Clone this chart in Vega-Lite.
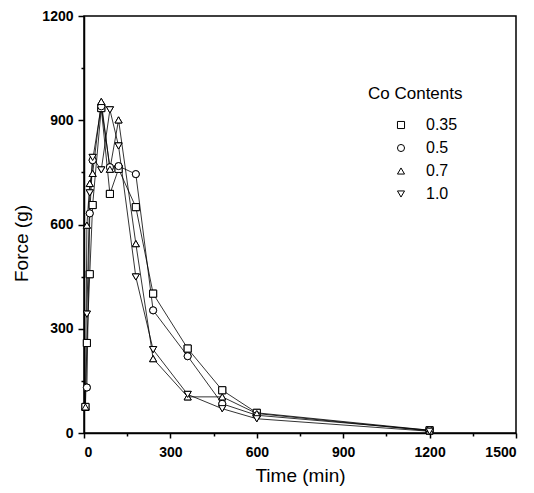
{
  "$schema": "https://vega.github.io/schema/vega-lite/v6.json",
  "width": 432,
  "height": 417,
  "autosize": "none",
  "padding": {"left": 84, "top": 16, "right": 18, "bottom": 60},
  "background": "white",
  "config": {
    "font": "Liberation Sans",
    "view": {"stroke": "black", "strokeWidth": 1.5},
    "axis": {
      "grid": false,
      "domainColor": "black",
      "domainWidth": 1.5,
      "tickColor": "black",
      "tickWidth": 1.5,
      "labelColor": "black",
      "labelFont": "Liberation Sans",
      "labelFontSize": 14,
      "labelFontWeight": "bold",
      "titleColor": "black",
      "titleFont": "Liberation Sans",
      "titleFontSize": 19,
      "titleFontWeight": "normal"
    }
  },
  "data": {
    "values": [
      {"content": "0.35", "time": 5, "force": 75},
      {"content": "0.35", "time": 10, "force": 259},
      {"content": "0.35", "time": 20, "force": 457},
      {"content": "0.35", "time": 30, "force": 656},
      {"content": "0.35", "time": 60, "force": 935},
      {"content": "0.35", "time": 90, "force": 688},
      {"content": "0.35", "time": 120, "force": 760},
      {"content": "0.35", "time": 180, "force": 650},
      {"content": "0.35", "time": 240, "force": 401},
      {"content": "0.35", "time": 360, "force": 243},
      {"content": "0.35", "time": 480, "force": 123},
      {"content": "0.35", "time": 600, "force": 58},
      {"content": "0.35", "time": 1200, "force": 8},
      {"content": "0.5", "time": 10, "force": 131},
      {"content": "0.5", "time": 20, "force": 632},
      {"content": "0.5", "time": 30, "force": 785},
      {"content": "0.5", "time": 60, "force": 940},
      {"content": "0.5", "time": 90, "force": 765},
      {"content": "0.5", "time": 120, "force": 768},
      {"content": "0.5", "time": 180, "force": 745},
      {"content": "0.5", "time": 240, "force": 353},
      {"content": "0.5", "time": 360, "force": 221},
      {"content": "0.5", "time": 480, "force": 84},
      {"content": "0.5", "time": 600, "force": 51},
      {"content": "0.5", "time": 1200, "force": 8},
      {"content": "0.7", "time": 5, "force": 75},
      {"content": "0.7", "time": 10, "force": 598},
      {"content": "0.7", "time": 20, "force": 718},
      {"content": "0.7", "time": 30, "force": 747},
      {"content": "0.7", "time": 60, "force": 954},
      {"content": "0.7", "time": 90, "force": 759},
      {"content": "0.7", "time": 120, "force": 901},
      {"content": "0.7", "time": 180, "force": 545},
      {"content": "0.7", "time": 240, "force": 214},
      {"content": "0.7", "time": 360, "force": 104},
      {"content": "0.7", "time": 480, "force": 104},
      {"content": "0.7", "time": 600, "force": 56},
      {"content": "0.7", "time": 1200, "force": 6},
      {"content": "1.0", "time": 10, "force": 342},
      {"content": "1.0", "time": 20, "force": 691},
      {"content": "1.0", "time": 30, "force": 793},
      {"content": "1.0", "time": 60, "force": 757},
      {"content": "1.0", "time": 90, "force": 930},
      {"content": "1.0", "time": 120, "force": 826},
      {"content": "1.0", "time": 180, "force": 449},
      {"content": "1.0", "time": 240, "force": 240},
      {"content": "1.0", "time": 360, "force": 111},
      {"content": "1.0", "time": 480, "force": 70},
      {"content": "1.0", "time": 600, "force": 41},
      {"content": "1.0", "time": 1200, "force": 5}
    ]
  },
  "layer": [
    {
      "mark": {"type": "line", "color": "black", "strokeWidth": 0.8},
      "encoding": {
        "x": {
          "field": "time", "type": "quantitative",
          "scale": {"domain": [0, 1500], "nice": false},
          "axis": {"orient": "bottom", "values": [0, 300, 600, 900, 1200, 1500], "format": "d", "tickSize": 5, "labelPadding": 7, "title": "Time (min)", "titlePadding": 7}
        },
        "y": {
          "field": "force", "type": "quantitative",
          "scale": {"domain": [0, 1200], "nice": false},
          "axis": {"orient": "left", "values": [0, 300, 600, 900, 1200], "format": "d", "tickSize": 6, "labelPadding": 5, "title": "Force (g)", "titlePadding": 10, "titleY": 227}
        },
        "detail": {"field": "content", "type": "nominal"}
      }
    },
    {
      "mark": {"type": "point", "filled": false, "color": "black", "strokeWidth": 1, "size": 50, "opacity": 1},
      "encoding": {
        "x": {
          "field": "time", "type": "quantitative",
          "scale": {"domain": [0, 1500], "nice": false},
          "axis": {"orient": "bottom", "values": [150, 450, 750, 1050, 1350], "labels": false, "domain": false, "tickSize": 3, "title": null}
        },
        "y": {
          "field": "force", "type": "quantitative",
          "scale": {"domain": [0, 1200], "nice": false},
          "axis": {"orient": "left", "values": [150, 450, 750, 1050], "labels": false, "domain": false, "tickSize": 3, "title": null}
        },
        "shape": {
          "field": "content", "type": "nominal",
          "scale": {"domain": ["0.35", "0.5", "0.7", "1.0"], "range": ["square", "circle", "triangle-up", "triangle-down"]},
          "legend": {
            "orient": "none",
            "legendX": 284,
            "legendY": 70,
            "title": "Co Contents",
            "titleFont": "Liberation Sans",
            "titleFontSize": 17,
            "titleFontWeight": "normal",
            "titleColor": "black",
            "titlePadding": 14,
            "labelFont": "Liberation Sans",
            "labelFontSize": 16,
            "labelColor": "black",
            "labelOffset": 17,
            "symbolOffset": 25,
            "symbolSize": 50,
            "symbolStrokeColor": "black",
            "symbolStrokeWidth": 1,
            "symbolOpacity": 1,
            "rowPadding": 7
          }
        }
      }
    },
    {
      "mark": {"type": "point", "filled": true, "fill": "white", "stroke": "black", "strokeWidth": 1, "size": 50, "opacity": 1},
      "encoding": {
        "x": {"field": "time", "type": "quantitative", "axis": null},
        "y": {"field": "force", "type": "quantitative", "axis": null},
        "shape": {"field": "content", "type": "nominal", "legend": null}
      }
    }
  ],
  "resolve": {"axis": {"x": "independent", "y": "independent"}}
}
